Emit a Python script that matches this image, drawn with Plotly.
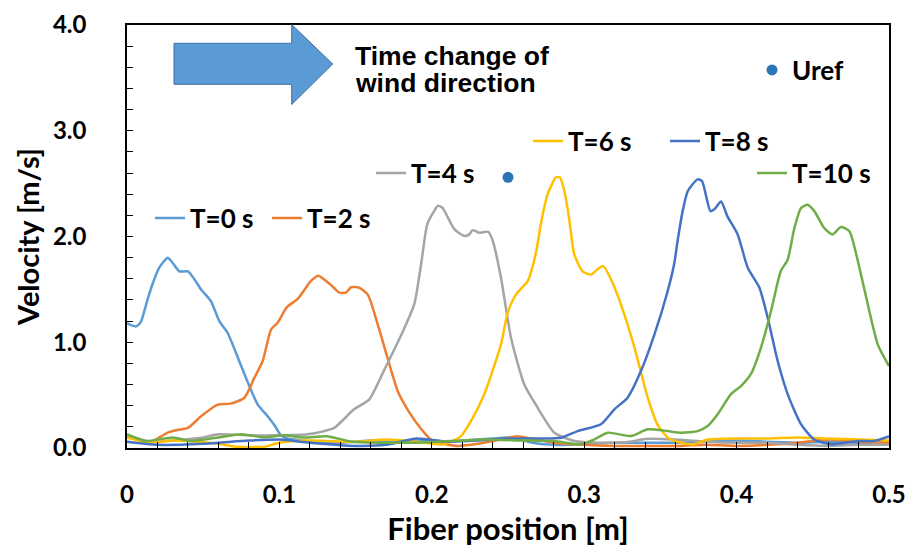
import plotly.graph_objects as go

# ---------------- data ----------------
t0_x = [0, 0.003, 0.006, 0.009, 0.0136, 0.017, 0.021, 0.0267, 0.030, 0.0343, 0.040, 0.044, 0.0486, 0.055,
        0.0606, 0.066, 0.0737, 0.079, 0.0858, 0.0923, 0.097, 0.101, 0.105, 0.11, 0.12, 0.13, 0.14, 0.15, 0.16,
        0.17, 0.18, 0.19, 0.2, 0.21, 0.22, 0.23, 0.24, 0.25, 0.26, 0.27, 0.28, 0.29, 0.30, 0.32, 0.34, 0.36,
        0.38, 0.40, 0.42, 0.44, 0.46, 0.48, 0.50]
t0_y = [1.18, 1.16, 1.15, 1.19, 1.41, 1.56, 1.70, 1.80, 1.75, 1.67, 1.67, 1.60, 1.50, 1.39,
        1.20, 1.09, 0.82, 0.63, 0.41, 0.30, 0.21, 0.12, 0.09, 0.08, 0.06, 0.05, 0.05, 0.06, 0.07,
        0.06, 0.06, 0.07, 0.07, 0.06, 0.07, 0.08, 0.09, 0.10, 0.07, 0.04, 0.03, 0.03, 0.04, 0.05, 0.05, 0.05,
        0.06, 0.07, 0.06, 0.05, 0.06, 0.05, 0.06]

t2_x = [0, 0.007, 0.0146, 0.02, 0.0267, 0.033, 0.040, 0.0486, 0.0595, 0.068, 0.077, 0.0836, 0.089, 0.0945,
        0.0989, 0.1048, 0.112, 0.1207, 0.1255, 0.1339, 0.1393, 0.1437, 0.147, 0.1525, 0.158, 0.1645, 0.171,
        0.1776, 0.186, 0.193, 0.1995, 0.208, 0.217, 0.23, 0.245, 0.256, 0.265, 0.28, 0.30, 0.32, 0.34, 0.36,
        0.38, 0.40, 0.42, 0.44, 0.46, 0.48, 0.50]
t2_y = [0.12, 0.08, 0.05, 0.09, 0.145, 0.17, 0.19, 0.30, 0.41, 0.42, 0.475, 0.665, 0.82, 1.12,
        1.185, 1.33, 1.41, 1.58, 1.63, 1.54, 1.47, 1.47, 1.52, 1.515, 1.45, 1.17, 0.85,
        0.54, 0.32, 0.18, 0.08, 0.04, 0.02, 0.04, 0.08, 0.11, 0.09, 0.05, 0.03, 0.02, 0.02, 0.02,
        0.03, 0.02, 0.03, 0.05, 0.08, 0.06, 0.05]

t4_x = [0, 0.015, 0.03, 0.05, 0.06, 0.08, 0.10, 0.1186, 0.128, 0.136, 0.149, 0.159, 0.169, 0.18, 0.1885,
        0.193, 0.197, 0.2015, 0.204, 0.207, 0.2148, 0.2213, 0.2246, 0.2268, 0.231, 0.237, 0.24, 0.2454,
        0.252, 0.2607, 0.2695, 0.2804, 0.2935, 0.31, 0.33, 0.34, 0.36, 0.38, 0.40, 0.42, 0.44, 0.46, 0.48, 0.50]
t4_y = [0.12, 0.06, 0.07, 0.10, 0.13, 0.12, 0.12, 0.13, 0.155, 0.19, 0.366, 0.46, 0.744, 1.07, 1.36,
        1.74, 2.115, 2.24, 2.29, 2.27, 2.07, 2.005, 2.02, 2.06, 2.036, 2.045, 1.96, 1.61,
        1.04, 0.60, 0.38, 0.145, 0.066, 0.05, 0.06, 0.085, 0.08, 0.06, 0.05, 0.05, 0.03, 0.02, 0.03, 0.03]

t6_x = [0, 0.015, 0.03, 0.045, 0.06, 0.07, 0.08, 0.09, 0.10, 0.12, 0.15, 0.17, 0.19, 0.208, 0.219, 0.2257,
        0.2345, 0.2454, 0.2498, 0.2552, 0.263, 0.2684, 0.2717, 0.276, 0.2815, 0.284, 0.287, 0.29, 0.2935,
        0.299, 0.3045, 0.3088, 0.3125, 0.3187, 0.324, 0.333, 0.3417, 0.348, 0.355, 0.3635, 0.372, 0.381,
        0.40, 0.42, 0.44, 0.46, 0.48, 0.50]
t6_y = [0.10, 0.05, 0.07, 0.06, 0.04, 0.015, 0.01, 0.01, 0.05, 0.07, 0.06, 0.08, 0.06, 0.035, 0.11, 0.255,
        0.51, 0.98, 1.28, 1.45, 1.58, 1.85, 2.13, 2.40, 2.56, 2.56, 2.43, 2.18, 1.83,
        1.67, 1.64, 1.69, 1.72, 1.56, 1.36, 0.95, 0.476, 0.224, 0.097, 0.05, 0.035, 0.08,
        0.09, 0.09, 0.10, 0.09, 0.08, 0.07]

t8_x = [0, 0.02, 0.05, 0.08, 0.10, 0.12, 0.15, 0.17, 0.19, 0.21, 0.23, 0.25, 0.27, 0.2848, 0.2957, 0.311,
        0.3198, 0.3285, 0.337, 0.346, 0.3548, 0.359, 0.3613, 0.3646, 0.368, 0.3744, 0.3773, 0.3828, 0.3854,
        0.3898, 0.394, 0.4007, 0.4073, 0.415, 0.4204, 0.427, 0.4335, 0.4423, 0.451, 0.462, 0.4795, 0.49, 0.50]
t8_y = [0.06, 0.03, 0.04, 0.07, 0.08, 0.05, 0.02, 0.03, 0.09, 0.06, 0.07, 0.09, 0.09, 0.097, 0.16, 0.224,
        0.366, 0.476, 0.72, 1.07, 1.485, 1.737, 1.96, 2.24, 2.43, 2.54, 2.525, 2.24, 2.257,
        2.33, 2.19, 2.02, 1.705, 1.516, 1.232, 0.82, 0.51, 0.224, 0.08, 0.035, 0.066, 0.066, 0.11]

t10_x = [0, 0.012, 0.03, 0.042, 0.06, 0.075, 0.09, 0.103, 0.116, 0.131, 0.148, 0.19, 0.2345, 0.26, 0.28,
         0.298, 0.3066, 0.3154, 0.3307, 0.3417, 0.3548, 0.3635, 0.3745, 0.381, 0.3876, 0.3963, 0.4029,
         0.4094, 0.416, 0.4226, 0.429, 0.4335, 0.4379, 0.4423, 0.4466, 0.451, 0.4575, 0.463, 0.4685,
         0.474, 0.4816, 0.4926, 0.50]
t10_y = [0.13, 0.066, 0.10, 0.066, 0.10, 0.13, 0.10, 0.12, 0.10, 0.11, 0.06, 0.05, 0.08, 0.07, 0.066,
         0.035, 0.08, 0.145, 0.113, 0.177, 0.16, 0.145, 0.16, 0.208, 0.32, 0.51, 0.586,
         0.70, 0.95, 1.295, 1.674, 1.78, 2.08, 2.27, 2.30, 2.24, 2.08, 2.02, 2.09,
         2.05, 1.64, 0.98, 0.775]

uref_x = [0.25]
uref_y = [2.56]

series_names = ["T=0 s", "T=2 s", "T=4 s", "T=6 s", "T=8 s", "T=10 s"]
series_x = [t0_x, t2_x, t4_x, t6_x, t8_x, t10_x]
series_y = [t0_y, t2_y, t4_y, t6_y, t8_y, t10_y]
colors = ["#5B9BD5", "#ED7D31", "#A5A5A5", "#FFC000", "#4472C4", "#70AD47"]

x_tickvals = [0, 0.1, 0.2, 0.3, 0.4, 0.5]
x_ticktext = ["0", "0.1", "0.2", "0.3", "0.4", "0.5"]
y_tickvals = [0, 1, 2, 3, 4]
y_ticktext = ["0.0", "1.0", "2.0", "3.0", "4.0"]

# ---------------- layout helpers ----------------
W, H = 911, 547
L, R, T, B = 127, 22, 25, 99
PW, PH = W - L - R, H - T - B


def px(xp):
    return (xp - L) / PW


def py(yp):
    return (H - B - yp) / PH


FONT = "Lato"
legend_font = dict(family=FONT, size=26, color="black", weight="bold")

# legend positions (pixel centre of each entry)
legend_pos = [(150, 218), (267, 218), (371, 173), (528, 141), (665, 141), (752, 173)]

fig = go.Figure()
legend_names = ["legend", "legend2", "legend3", "legend4", "legend5", "legend6"]
for name, xs, ys, c, lg in zip(series_names, series_x, series_y, colors, legend_names):
    fig.add_trace(go.Scatter(x=xs, y=ys, mode="lines", name=name,
                             line=dict(color=c, width=2.5, shape="spline", smoothing=0.6),
                             legend=lg))
fig.add_trace(go.Scatter(x=uref_x, y=uref_y, mode="markers", name="Uref",
                         marker=dict(color="#2E75B6", size=11), legend="legend7"))

layout_legends = {}
for lg, (lx, ly) in zip(legend_names, legend_pos):
    layout_legends[lg] = dict(x=px(lx), y=py(ly), xanchor="left", yanchor="middle",
                              bgcolor="rgba(0,0,0,0)", borderwidth=0, font=legend_font,
                              itemclick=False, itemdoubleclick=False)
layout_legends["legend7"] = dict(x=px(752), y=py(70), xanchor="left", yanchor="middle",
                                 bgcolor="rgba(0,0,0,0)", borderwidth=0, font=legend_font)

tick_font = dict(family=FONT, size=24, color="black", weight="bold")
xtitle_font = dict(family=FONT, size=31, color="black", weight="bold")
ytitle_font = dict(family=FONT, size=29, color="black", weight="bold")

fig.update_layout(
    width=W, height=H,
    margin=dict(l=L, r=R, t=T, b=B, autoexpand=False),
    paper_bgcolor="white", plot_bgcolor="white",
    showlegend=True,
    **layout_legends,
    xaxis=dict(range=[0, 0.5], tickvals=x_tickvals, ticktext=x_ticktext, automargin=False,
               ticks="inside", ticklen=6, tickwidth=1, tickcolor="black",
               minor=dict(dtick=0.02, ticks="inside", ticklen=6, tickwidth=1, tickcolor="black"),
               showline=True, linecolor="black", linewidth=1.5, mirror=True,
               showgrid=False, zeroline=False, tickfont=tick_font, ticklabelstandoff=24,
               title=dict(text="Fiber position [m]", font=xtitle_font, standoff=18)),
    yaxis=dict(range=[0, 4], tickvals=y_tickvals, ticktext=y_ticktext, automargin=False,
               ticks="inside", ticklen=6, tickwidth=1, tickcolor="black",
               minor=dict(dtick=0.2, ticks="inside", ticklen=6, tickwidth=1, tickcolor="black"),
               showline=True, linecolor="black", linewidth=1.5, mirror=True,
               showgrid=False, zeroline=False, tickfont=tick_font, ticklabelstandoff=34,
               title=dict(text="Velocity [m/s]", font=ytitle_font, standoff=5)),
)

# wind-direction block arrow (decoration)
ax0, ahx, atip = px(174), px(291.7), px(332.7)
by0, by1, hy0, hy1, ty = py(43.3), py(84.3), py(24.5), py(104.5), py(64)
path = (f"M {ax0},{by0} L {ahx},{by0} L {ahx},{hy0} L {atip},{ty} L {ahx},{hy1} "
        f"L {ahx},{by1} L {ax0},{by1} Z")
fig.add_shape(type="path", path=path, xref="paper", yref="paper",
              fillcolor="#5B9BD5", line=dict(color="#41719C", width=1))

ann_font = dict(family="Liberation Sans", size=26.5, color="black", weight="bold")
fig.add_annotation(x=px(353), y=py(56), xref="paper", yref="paper", text="Time change of",
                   showarrow=False, xanchor="left", yanchor="middle", font=ann_font)
fig.add_annotation(x=px(353), y=py(83), xref="paper", yref="paper", text="wind direction",
                   showarrow=False, xanchor="left", yanchor="middle", font=ann_font)

fig.write_html("out.html")
